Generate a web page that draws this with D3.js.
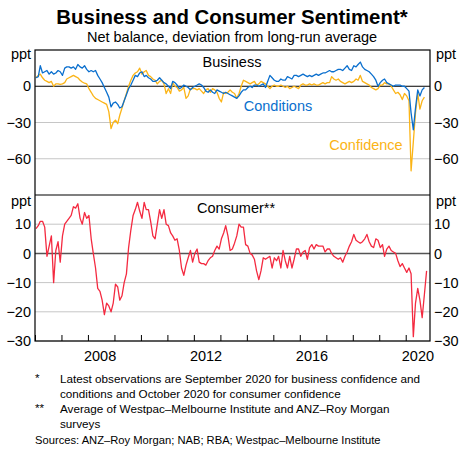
<!DOCTYPE html>
<html>
<head>
<meta charset="utf-8">
<script src="https://cdn.jsdelivr.net/npm/d3@7"></script>
<style>
body { margin: 0; background: #fff; }
text { font-family: "Liberation Sans", Arial, sans-serif; fill: #000; }
</style>
</head>
<body>
<svg id="chart" width="460" height="449"></svg>
<script>
// monthly series, first value is January 2006
var firstYear = 2006;

// NAB business conditions, ppt deviation from average (to Sep 2020)
var conditions = [
    7, 8, 17, 11, 12, 13, 10, 12, 10, 11,
    13, 12, 9, 15, 16, 16, 15, 16, 14, 18,
    16, 15, 17, 14, 12, 13, 12, 13, 9, 6,
    3, -1, -5, -9, -17, -14, -13, -15, -18, -17,
    -12, -7, -2, 1, 5, 9, 8, 11, 12, 8,
    9, 7, 6, 4, 4, 5, 7, 5, 3, 2,
    0, -2, 4, 3, 1, -2, -1, 1, 0, -1,
    -3, -1, 0, 1, 2, 1, -1, -4, -5, -3,
    -5, -6, -3, -4, -5, -6, -5, -6, -7, -8,
    -9, -10, -8, -5, -3, -3, -1, 0, -1, 1,
    1, 0, 1, 2, -1, 4, 9, 7, 5, 4,
    4, 6, 5, 5, 8, 7, 6, 9, 9, 8,
    9, 10, 9, 8, 9, 8, 9, 10, 9, 10,
    11, 11, 12, 13, 12, 12, 13, 14, 14, 13,
    15, 17, 14, 13, 17, 16, 18, 20, 16, 14,
    13, 12, 10, 8, 5, 0, 3, 5, 6, 3,
    2, 1, 0, 1, 1, 1, 0, 0, -2, -4,
    -22, -36, -18, -3, -8, -3, -1
];

// NAB business confidence (to Sep 2020)
var confidence = [
    7, 9, 10, 7, 5, 4, 3, 4, 0, 2,
    2, 1.5, 2, 3, 6, 7, 8, 9, 8, 7,
    5, 3.5, 2.5, 2, -2, -5, -8, -10, -11, -12,
    -13, -14, -15, -21, -35, -30, -28, -31, -24, -18,
    -12, -6, 0, 5, 9, 11, 12, 15, 10, 12,
    13, 9, 8, 6, 5, 2, 4, 5, 2, -6,
    -2, -6, 3, 0, -1, -4, -3, -1, -10, -8,
    -2, -2, -2, -3, -2, -4, -6, -3, -2, -5,
    -2, -3, -5, -10, -13, -5, -6, -5, -3, -5,
    -6, -10, -6, 0, 5, 4, 3, 2, 3, 4,
    1, 2, 4, 3, 2, 0, -2, 0, 1, 0,
    0, 1, 0, -1, 0, -2, -1, 0, -1, -2,
    1, 2, 1, 1, 2, 1, 2, 1, 1, 2,
    3, 2, 3, 3, 8, 6, 5, 6, 4, 3,
    2, 3, 4, 3, 4, 6, 5, 9, 4, 3,
    2, 1, -1, -2, -3, -2, 1, 1, 3, 2,
    2, 0, -3, -6, -5, -7, -11, -6, -8, -12,
    -70, -46, -22, -6, -19, -12, -9
];

// consumer sentiment, average of the two surveys (to Oct 2020)
var consumer = [
    8.5, 9.5, 11, 11, 9, -1, 2.5, 6, -10, 1,
    4, -3, 6, 10, 11, 12, 13, 16, 15.5, 17,
    12, 10, 14, 12, 13, 5, 0, -5, -12, -13,
    -16, -21, -17, -18, -20, -17, -10.5, -11.5, -16, -14.5,
    -10, -7, 2, 8, 13, 15, 17.5, 14.5, 12, 17.5,
    15, 15, 11, 6, 5, 10, 15, 12, 15, 10,
    9.5, 7, 6, 4.5, 5, 1, -5, -7.5, -4, -1.5,
    1, -3, 0, 1.5, -3, -3.5, -3.5, -4, -2.5, -1.5,
    -1, 1, 2.5, 1.5, 5, 7, 9.5, 6, 1, 1.5,
    3.5, 6, 10, 9, 9, 3, 2.5, 0, -0.5, -2,
    -6, -9, -6, -1.5, -2, -1.5, -1, -5, -1.5, -2.5,
    -1, -5, 1, -2.5, -5, -1, -5, -2, 1.5, 1.5,
    -1, 0.5, 1, -2, 2, 3, 1.5, 3, 2.5, 2.5,
    2.5, 0.5, 1.5, 1.5, 0, -1, -1.5, -2, -1.5, -3,
    -1, 0.5, 2.5, 4, 6.5, 4.5, 4, 3.5, 4, 5,
    6.5, 4, 2.5, 2, 5, 4.5, 2, 3, -1, 1.5,
    2.5, 1, 0.5, 0, -2.5, -4.5, -3.5, -5, -6.5, -5,
    -7, -28.5, -17, -12, -16, -22, -14, -6
];

var topTicks = [0, -30, -60];
var bottomTicks = [10, 0, -10, -20, -30];
var yearLabels = [2008, 2012, 2016, 2020];

var footnotes = [
    {mark: "*", lines: ["Latest observations are September 2020 for business confidence and",
                        "conditions and October 2020 for consumer confidence"]},
    {mark: "**", lines: ["Average of Westpac\u2013Melbourne Institute and ANZ\u2013Roy Morgan",
                         "surveys"]}
];
var sources = "Sources: ANZ\u2013Roy Morgan; NAB; RBA; Westpac\u2013Melbourne Institute";

var colors = {conditions: "#0a6fce", confidence: "#fbb416", consumer: "#f42a40"};

// plot box (window.top is read-only, so avoid plain "top")
var xLeft = 35, xRight = 430, yFirst = 50, yMid = 195, yLast = 341;
var labelSize = "14.5px";
var noteSize = "11.7px";

var svg = d3.select("#chart");

function monthDate(i) {
    return new Date(firstYear, i, 15);
}

var x = d3.scaleTime()
    .domain([new Date(2006, 0, 1), new Date(2020, 11, 1)])
    .range([xLeft, xRight]);

var yTop = d3.scaleLinear().domain([-90, 30]).range([yMid, yFirst]);
var yBot = d3.scaleLinear().domain([-30, 20]).range([yLast, yMid]);

// titles
svg.append("text")
    .attr("x", 232).attr("y", 24)
    .attr("text-anchor", "middle")
    .style("font-size", "20.4px").style("font-weight", "bold")
    .text("Business and Consumer Sentiment*");

svg.append("text")
    .attr("x", 232).attr("y", 42)
    .attr("text-anchor", "middle")
    .style("font-size", labelSize)
    .text("Net balance, deviation from long-run average");

// grid lines
function grid(scale, values) {
    svg.append("g").selectAll("line")
        .data(values.filter(function (d) { return d !== 0; }))
        .enter().append("line")
        .attr("x1", xLeft).attr("x2", xRight)
        .attr("y1", function (d) { return scale(d); })
        .attr("y2", function (d) { return scale(d); })
        .attr("stroke", "#c6c6c6")
        .attr("stroke-width", 1);
}
grid(yTop, topTicks);
grid(yBot, bottomTicks);

// zero lines
svg.append("line")
    .attr("x1", xLeft).attr("x2", xRight)
    .attr("y1", yTop(0)).attr("y2", yTop(0))
    .attr("stroke", "#000").attr("stroke-width", 1);
svg.append("line")
    .attr("x1", xLeft).attr("x2", xRight)
    .attr("y1", yBot(0)).attr("y2", yBot(0))
    .attr("stroke", "#555").attr("stroke-width", 1.5);

// y axis labels, both sides
function yLabels(scale, values) {
    var l = svg.append("g")
        .attr("transform", "translate(" + xLeft + ",0)")
        .call(d3.axisLeft(scale).tickValues(values).tickSize(0).tickPadding(4));
    var r = svg.append("g")
        .attr("transform", "translate(" + xRight + ",0)")
        .call(d3.axisRight(scale).tickValues(values).tickSize(0).tickPadding(4));
    [l, r].forEach(function (g) {
        g.select(".domain").remove();
        g.selectAll("text")
            .style("font-size", labelSize)
            .attr("fill", "#000");
    });
}
yLabels(yTop, topTicks);
yLabels(yBot, bottomTicks);

// "ppt" units
[[xLeft - 14, 59], [xRight + 16, 59], [xLeft - 14, 206], [xRight + 16, 206]].forEach(function (p) {
    svg.append("text")
        .attr("x", p[0]).attr("y", p[1])
        .attr("text-anchor", "middle")
        .style("font-size", labelSize)
        .text("ppt");
});

// year ticks along the bottom
var xAxis = svg.append("g")
    .attr("transform", "translate(0," + yLast + ")")
    .call(d3.axisTop(x)
        .ticks(d3.timeYear.every(1))
        .tickSize(6)
        .tickSizeOuter(0)
        .tickFormat(""));
xAxis.select(".domain").remove();
xAxis.selectAll("line").attr("stroke", "#000");

svg.append("g").selectAll("text")
    .data(yearLabels)
    .enter().append("text")
    .attr("x", function (d) { return x(new Date(d, 6, 1)) - 1; })
    .attr("y", 361)
    .attr("text-anchor", "middle")
    .style("font-size", labelSize)
    .text(function (d) { return d; });

// lines
function drawLine(values, scale, color) {
    var line = d3.line()
        .x(function (d, i) { return x(monthDate(i)); })
        .y(function (d) { return scale(d); });
    svg.append("path")
        .datum(values)
        .attr("d", line)
        .attr("fill", "none")
        .attr("stroke", color)
        .attr("stroke-width", 1.3)
        .attr("stroke-linejoin", "round");
}
drawLine(confidence, yTop, colors.confidence);
drawLine(conditions, yTop, colors.conditions);
drawLine(consumer, yBot, colors.consumer);

// frame
svg.append("rect")
    .attr("x", xLeft).attr("y", yFirst)
    .attr("width", xRight - xLeft).attr("height", yLast - yFirst)
    .attr("fill", "none").attr("stroke", "#000").attr("stroke-width", 1.2);
svg.append("line")
    .attr("x1", xLeft).attr("x2", xRight)
    .attr("y1", yMid).attr("y2", yMid)
    .attr("stroke", "#000").attr("stroke-width", 1.2);

// panel and series labels
svg.append("text").attr("x", 232).attr("y", 67).attr("text-anchor", "middle")
    .style("font-size", labelSize).text("Business");
svg.append("text").attr("x", 236).attr("y", 213).attr("text-anchor", "middle")
    .style("font-size", labelSize).text("Consumer**");
svg.append("text").attr("x", 278).attr("y", 111).attr("text-anchor", "middle")
    .style("font-size", labelSize).style("fill", colors.conditions).text("Conditions");
svg.append("text").attr("x", 366).attr("y", 150).attr("text-anchor", "middle")
    .style("font-size", labelSize).style("fill", colors.confidence).text("Confidence");

// footnotes
var noteY = 383;
footnotes.forEach(function (note) {
    svg.append("text").attr("x", 35).attr("y", noteY - 1)
        .style("font-size", noteSize).text(note.mark);
    note.lines.forEach(function (t) {
        svg.append("text").attr("x", 60).attr("y", noteY)
            .style("font-size", noteSize).text(t);
        noteY += 14.5;
    });
    noteY += 1;
});
svg.append("text").attr("x", 35).attr("y", 444)
    .style("font-size", "11.2px").text(sources);
</script>
</body>
</html>
